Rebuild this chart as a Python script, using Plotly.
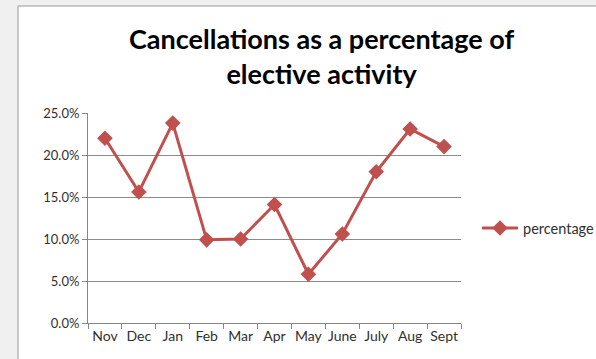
import plotly.graph_objects as go

months = ["Nov", "Dec", "Jan", "Feb", "Mar", "Apr", "May", "June", "July", "Aug", "Sept"]
percentage = [0.220, 0.156, 0.238, 0.099, 0.100, 0.141, 0.058, 0.106, 0.180, 0.231, 0.210]
y_ticks = [0, 0.05, 0.10, 0.15, 0.20, 0.25]

W, H = 596, 359
L, R, T, B = 88, 135, 113, 36
pw, ph = W - L - R, H - T - B

def px_x(px):
    return (px - L) / pw

def px_y(py):
    return (H - B - py) / ph

red = "#C0504D"
font = "Lato, Open Sans, sans-serif"

fig = go.Figure()
fig.add_trace(go.Scatter(
    x=months, y=percentage, mode="lines+markers", name="percentage",
    line=dict(color=red, width=3),
    marker=dict(symbol="diamond", size=12, color=red),
))

fig.update_layout(
    width=W, height=H,
    margin=dict(l=L, r=R, t=T, b=B, autoexpand=False),
    paper_bgcolor="#f0f0f0",
    plot_bgcolor="rgba(0,0,0,0)",
    font=dict(family=font, color="#404040", size=13),
    showlegend=True,
    legend=dict(x=px_x(477), y=px_y(228), xanchor="left", yanchor="middle",
                bgcolor="rgba(0,0,0,0)", font=dict(size=14.5, color="#303030"),
                itemwidth=36),
    xaxis=dict(
        type="category", showgrid=False, showline=True, linecolor="#868686",
        ticks="outside", tickson="boundaries", ticklen=5, tickcolor="#868686",
        tickangle=0, automargin=False,
        range=[-0.5, len(months) - 0.5], tickfont=dict(size=14, color="#303030"),
    ),
    yaxis=dict(
        range=[0, 0.25], tickvals=y_ticks, tickformat=".1%", automargin=False,
        showgrid=True, gridcolor="#8c8c8c", gridwidth=1,
        showline=True, linecolor="#868686", ticks="outside", ticklen=5,
        tickcolor="#868686", zeroline=False, tickfont=dict(size=13, color="#303030"),
    ),
    shapes=[dict(
        type="rect", xref="paper", yref="paper", layer="below",
        x0=px_x(18), x1=px_x(700), y0=px_y(420), y1=px_y(6),
        fillcolor="white", line=dict(color="#9a9a9a", width=1),
    )],
    annotations=[dict(
        text="<b>Cancellations as a percentage of<br>elective activity</b>",
        xref="paper", yref="paper", x=px_x(321), y=px_y(56),
        xanchor="center", yanchor="middle", showarrow=False,
        font=dict(family=font, size=27, color="black"),
    )],
)

fig.write_html("out.html")
